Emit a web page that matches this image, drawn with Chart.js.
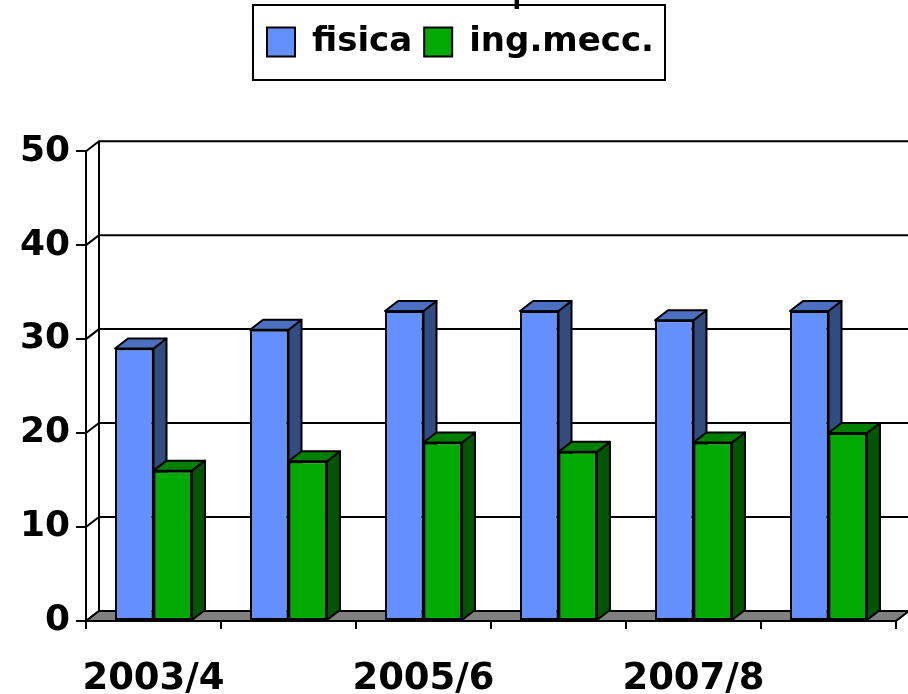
<!DOCTYPE html>
<html>
<head>
<meta charset="utf-8">
<script src="https://cdn.jsdelivr.net/npm/chart.js"></script>
<style>
    html, body { margin: 0; padding: 0; background: #fff; }
    canvas { display: block; }
</style>
</head>
<body>
<canvas id="visualization" width="908" height="694"></canvas>
<script>
const categories = ['2003/4', '2004/5', '2005/6', '2006/7', '2007/8', '2008/9'];
const fisica = [29, 31, 33, 33, 32, 33];
const ingMecc = [16, 17, 19, 18, 19, 20];
const yTicks = [0, 10, 20, 30, 40, 50];

const FONT = 'DejaVu Sans';
// depth of the fake 3d box
const DX = 13;
const DY = -10;
// legend sits a bit right of the centre of the plot
const LEGEND_SHIFT = 3;

// side and top colours of each series, front colour is the dataset's
const shades = [
    { top: '#4c6fc0', side: '#334c80' },
    { top: '#008000', side: '#005500' },
];

function poly(ctx, pts, fill) {
    ctx.beginPath();
    pts.forEach((p, i) => i ? ctx.lineTo(p[0], p[1]) : ctx.moveTo(p[0], p[1]));
    ctx.closePath();
    if (fill) {
        ctx.fillStyle = fill;
        ctx.fill();
    }
    ctx.stroke();
}

const box3d = {
    id: 'box3d',
    afterLayout(chart) {
        chart.legend.left += LEGEND_SHIFT;
        chart.legend.right += LEGEND_SHIFT;
    },
    beforeDatasetsDraw(chart) {
        const ctx = chart.ctx;
        const area = chart.chartArea;
        const y = chart.scales.y;
        ctx.save();
        ctx.strokeStyle = '#000';
        ctx.lineWidth = 2;

        // walls
        yTicks.forEach((t) => {
            const py = y.getPixelForValue(t);
            ctx.beginPath();
            ctx.moveTo(area.left, py);
            ctx.lineTo(area.left + DX, py + DY);
            ctx.lineTo(area.right + DX, py + DY);
            ctx.stroke();
        });
        ctx.beginPath();
        ctx.moveTo(area.left + DX, area.bottom + DY);
        ctx.lineTo(area.left + DX, area.top + DY);
        ctx.stroke();

        // floor
        poly(ctx, [
            [area.left, area.bottom],
            [area.left + DX, area.bottom + DY],
            [area.right + DX, area.bottom + DY],
            [area.right, area.bottom],
        ], '#808080');

        // side and top of every bar, the library draws the front after this
        ctx.lineJoin = 'round';
        chart.data.datasets.forEach((ds, i) => {
            chart.getDatasetMeta(i).data.forEach((bar) => {
                const p = bar.getProps(['x', 'y', 'base', 'width'], true);
                const l = p.x - p.width / 2;
                const r = p.x + p.width / 2;
                poly(ctx, [[r, p.y], [r + DX, p.y + DY], [r + DX, p.base + DY], [r, p.base]], shades[i].side);
                poly(ctx, [[l, p.y], [l + DX, p.y + DY], [r + DX, p.y + DY], [r, p.y]], shades[i].top);
            });
        });
        ctx.restore();
    },
    afterDraw(chart) {
        const ctx = chart.ctx;
        const hit = chart.legend.legendHitBoxes;
        const last = hit[hit.length - 1];
        ctx.save();
        // frame round the legend
        ctx.strokeStyle = '#000';
        ctx.lineWidth = 2;
        ctx.strokeRect(hit[0].left - 14, last.top - 20, last.left + last.width - hit[0].left + 25, 75);
        // the chart title is cut off by the top of the picture
        ctx.fillStyle = '#000';
        ctx.font = '50px "' + FONT + '"';
        ctx.textBaseline = 'alphabetic';
        ctx.fillText('p', 510, -1);
        ctx.restore();
    },
};

const canvas = document.getElementById('visualization');
// no fi ligature in the legend
canvas.getContext('2d').textRendering = 'optimizeSpeed';

new Chart(canvas, {
    type: 'bar',
    data: {
        labels: categories,
        datasets: [
            { label: 'fisica', data: fisica, backgroundColor: '#6490ff', borderColor: '#000', borderWidth: 2, borderSkipped: false },
            { label: 'ing.mecc.', data: ingMecc, backgroundColor: '#00aa00', borderColor: '#000', borderWidth: 2, borderSkipped: false },
        ],
    },
    plugins: [box3d],
    options: {
        responsive: false,
        animation: false,
        layout: { padding: { top: 13, left: 19, right: 12, bottom: 0 } },
        datasets: { bar: { categoryPercentage: 0.57, barPercentage: 1 } },
        scales: {
            x: {
                afterFit: (s) => { s.height = 73; },
                grid: { offset: true, drawOnChartArea: false, color: '#000', lineWidth: 2, tickLength: 8 },
                border: { color: '#000', width: 2 },
                ticks: {
                    autoSkip: false,
                    minRotation: 0,
                    maxRotation: 0,
                    padding: 28,
                    color: '#000',
                    font: { family: FONT, weight: 'bold', size: 37 },
                    callback: (v, i) => (i % 2 === 0 ? categories[i] : ''),
                },
            },
            y: {
                min: 0,
                max: 50,
                afterFit: (s) => { s.width = 67; },
                grid: { drawOnChartArea: false, color: '#000', lineWidth: 2, tickLength: 10 },
                border: { color: '#000', width: 2 },
                ticks: {
                    stepSize: 10,
                    padding: 6,
                    color: '#000',
                    font: { family: FONT, weight: 'bold', size: 36 },
                },
            },
        },
        plugins: {
            tooltip: { enabled: false },
            // empty subtitle only keeps the gap between legend and plot
            subtitle: { display: true, text: ' ', weight: 500, font: { size: 1 }, padding: { top: 0, bottom: 81 } },
            legend: {
                position: 'top',
                labels: {
                    boxWidth: 28,
                    boxHeight: 29,
                    padding: 12,
                    color: '#000',
                    font: { family: FONT, weight: 'bold', size: 34 },
                },
            },
        },
    },
});
</script>
</body>
</html>
